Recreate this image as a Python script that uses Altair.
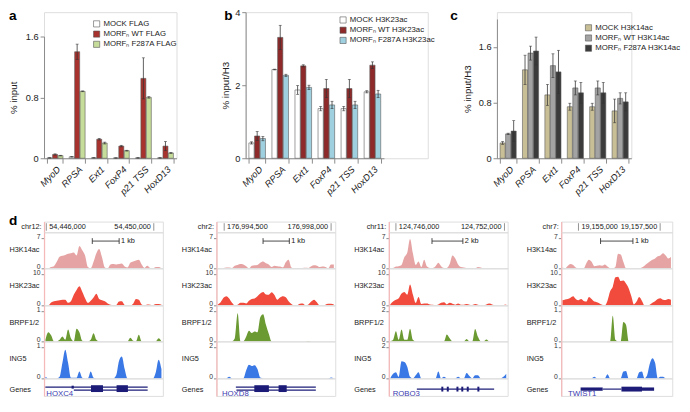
import altair as alt
import pandas as pd

FONT = "Arial"
PINK = "#f4b9b9"
GENE = "#1c1c78"

# ---------------- panels a-c ----------------
targets = ["MyoD", "RPSA", "Ext1", "FoxP4", "p21 TSS", "HoxD13"]

a_series = ["MOCK FLAG", "MORFₙ WT FLAG", "MORFₙ F287A FLAG"]
a_colors = ["#ffffff", "#a8322d", "#c6dc9a"]
a_mock = [0.005, 0.02, 0.006, 0.004, 0.005, 0.005]
a_mock_err = [0.002, 0.005, 0.002, 0.001, 0.002, 0.002]
a_wt = [0.05, 1.40, 0.25, 0.16, 1.05, 0.16]
a_wt_err = [0.008, 0.10, 0.01, 0.01, 0.27, 0.06]
a_f287a = [0.035, 0.88, 0.20, 0.10, 0.80, 0.07]
a_f287a_err = [0.004, 0.005, 0.012, 0.005, 0.01, 0.006]

b_series = ["MOCK H3K23ac", "MORFₙ WT H3K23ac", "MORFₙ F287A H3K23ac"]
b_colors = ["#ffffff", "#8e2a2a", "#9fd0e0"]
b_mock = [0.42, 2.43, 1.87, 1.36, 1.36, 1.82]
b_mock_err = [0.03, 0.01, 0.12, 0.06, 0.06, 0.03]
b_wt = [0.61, 3.31, 2.53, 1.91, 1.91, 2.55]
b_wt_err = [0.12, 0.33, 0.03, 0.25, 0.25, 0.09]
b_f287a = [0.54, 2.27, 1.94, 1.46, 1.46, 1.76]
b_f287a_err = [0.06, 0.03, 0.06, 0.10, 0.10, 0.10]

c_series = ["MOCK H3K14ac", "MORFₙ WT H3K14ac", "MORFₙ F287A H3K14ac"]
c_colors = ["#c9bf97", "#a3a3a3", "#3b3b3b"]
c_mock = [0.22, 1.27, 0.91, 0.74, 0.74, 0.68]
c_mock_err = [0.02, 0.21, 0.15, 0.05, 0.05, 0.17]
c_wt = [0.35, 1.51, 1.33, 1.01, 1.01, 0.86]
c_wt_err = [0.01, 0.10, 0.17, 0.10, 0.10, 0.08]
c_f287a = [0.39, 1.54, 1.24, 0.94, 0.94, 0.81]
c_f287a_err = [0.15, 0.20, 0.31, 0.15, 0.15, 0.13]

# ---------------- panel d ----------------
track_names = ["H3K14ac", "H3K23ac", "BRPF1/2", "ING5"]
track_colors = ["#e6a3a3", "#f04b3c", "#6b9a32", "#3a78e6"]

l1_chrom = "chr12:"
l1_domain = [54445915, 54450338]
l1_ticks = [54446000, 54450000]
l1_scalebar = [54447711, 54448711]
l1_scaletext = "1 kb"
l1_max = [7, 10, 1, 1]
l1_h3k14ac = [0, 0, 0.3, 0.5, 1.5, 2.7, 2.9, 3.1, 3.4, 3.5, 3.7, 3.0, 5.2, 4.2, 3.0, 0.3, 0, 1.5, 3.5, 4.5, 2.5,
              0.2, 0, 0.9, 1.0, 0.9, 1.0, 1.1, 0.4, 0.2, 1.3, 1.6, 1.8, 2.0, 0.9, 0.1, 0.6, 0.1, 0, 0.3, 0.3, 0]
l1_h3k23ac = [0, 0, 0.9, 1.3, 1.5, 1.6, 1.8, 1.8, 0.8, 1.3, 3.4, 4.9, 6.1, 4.4, 2.3, 0.8, 1.5, 2.5, 3.7, 2.0, 1.6,
              1.3, 0.6, 0.2, 0.1, 0.1, 1.2, 1.3, 0.1, 0, 0, 0.5, 2.0, 1.8, 0.3, 0, 0.3, 0.2, 0, 0.4, 0.4, 0.2]
l1_brpf = [0.05, 0.3, 0.2, 0, 0, 0.05, 0.16, 0.05, 0.39, 0.1, 0, 0.42, 0.3, 0.02, 0, 0, 0.05, 0.27, 0.05, 0, 0,
           0, 0, 0, 0, 0, 0, 0, 0, 0, 0.12, 0.02, 0, 0.22, 0, 0, 0, 0, 0, 0, 0.1, 0]
l1_ing5 = [0.05, 0, 0, 0, 0, 0.05, 0.5, 0.92, 0.5, 0.02, 0.02, 0.02, 0.22, 0.02, 0, 0, 0.22, 0.02, 0, 0, 0,
           0, 0, 0, 0, 0.1, 0.56, 0.7, 0.3, 0, 0, 0, 0, 0, 0, 0, 0, 0, 0, 0.2, 0.6, 0.3]
l1_gene = "HOXC4"
l1_gene_at = 54446000
l1_feat_start = [54445964, 54447024, 54446940, 54447663, 54448615]
l1_feat_end = [54449772, 54449772, 54447024, 54448109, 54449037]
l1_feat_kind = ["line_a", "line_b", "utr_a", "box", "box"]

l2_chrom = "chr2:"
l2_domain = [176994246, 176998136]
l2_ticks = [176994500, 176998000]
l2_scalebar = [176995772, 176996632]
l2_scaletext = "1 kb"
l2_max = [7, 10, 2, 2]
l2_h3k14ac = [0, 0, 0.1, 0.2, 0.2, 0.1, 0.6, 0.8, 1.0, 0.9, 0.5, 0, 0.6, 0.7, 0.8, 1.3, 1.6, 1.2, 0.9, 0.3, 0.6,
              0.5, 0.4, 0.2, 1.4, 2.0, 0.2, 0, 0, 0, 0.1, 0.15, 0.1, 0.5, 0.7, 0.6, 0.3, 0.4, 0.3, 0, 0.9, 0.9]
l2_h3k23ac = [0.3, 1.0, 2.4, 2.9, 2.2, 0.8, 0, 0.2, 0.8, 0.8, 0.6, 1.5, 2.0, 2.2, 2.9, 3.8, 4.3, 3.5, 3.4, 4.2, 3.3,
              1.8, 2.5, 2.9, 2.6, 1.3, 0.4, 0, 0, 0.5, 0.6, 0, 0.3, 1.2, 1.8, 1.0, 0, 0, 0.2, 0.5, 0.5, 0.3]
l2_brpf = [0, 0, 0, 0, 0, 0, 0.2, 1.86, 0, 0, 0.3, 0.7, 0.55, 0.65, 0.6, 1.6, 1.8, 1.1, 0.5, 0, 0,
           0, 0, 0, 0, 0, 0, 0, 0, 0, 0, 0, 0.02, 0, 0, 0, 0, 0, 0, 0, 0, 0]
l2_ing5 = [0, 0, 0, 0, 0.1, 0, 0, 0, 0, 0, 0.5, 0.87, 0.8, 0.85, 0.6, 0.05, 0, 0, 0, 0, 0,
           0, 0, 0, 0, 0, 0, 0, 0, 0, 0, 0, 0, 0, 0, 0, 0, 0, 0, 0, 0.06, 0]
l2_gene = "HOXD8"
l2_gene_at = 176994426
l2_feat_start = [176994882, 176994900, 176995486, 176996281]
l2_feat_end = [176997500, 176997500, 176995963, 176996546]
l2_feat_kind = ["line_a", "line_b", "box", "box"]

l3_chrom = "chr11:"
l3_domain = [124745608, 124752177]
l3_ticks = [124746000, 124752000]
l3_scalebar = [124747994, 124749702]
l3_scaletext = "2 kb"
l3_max = [7, 10, 2, 2]
l3_h3k14ac = [0, 0.1, 0.4, 0.5, 0.8, 2.6, 3.6, 6.8, 3.5, 0.8, 1.6, 0.3, 2.0, 0.4, 0.1, 0.1, 0.5, 1.3, 0.5, 0.1, 0.1,
              1.0, 3.0, 2.3, 0.9, 0.3, 0.2, 0.1, 0.1, 0.1, 0, 0.3, 0.2, 0, 0, 0, 0.1, 0.1, 0, 0, 0, 0.1]
l3_h3k23ac = [0.3, 1.2, 1.8, 2.3, 3.8, 4.3, 3.4, 6.7, 3.5, 0.8, 2.7, 0.4, 0.6, 0.6, 0.3, 0.2, 0.1, 0.3, 0.8, 1.0, 0.3,
              0.8, 0.5, 0.2, 0.6, 0.2, 0.2, 0.4, 0.2, 0.1, 0.4, 0.2, 0, 0, 0.3, 0.6, 0.3, 0, 0, 0, 0.1, 0.3]
l3_brpf = [0, 0.1, 0.67, 0.1, 0.78, 0.1, 0.1, 0.84, 0.1, 0, 0, 0, 0, 0, 0, 0, 0, 0, 0, 0, 0.45,
           0.2, 0, 0, 0, 0, 0, 0.16, 0, 0, 0.82, 0.3, 0, 0, 0.12, 0, 0, 0, 0, 0, 0, 0]
l3_ing5 = [0, 0.3, 0.4, 0.1, 1.1, 1.05, 0.75, 0.1, 0, 0.2, 0.4, 0, 0, 0, 0, 0, 0, 0.45, 0, 0.1, 0,
           0, 0, 0, 0.1, 0, 0, 0.35, 0.15, 0, 0.2, 0.2, 0, 0, 0, 0, 0, 0, 0, 0, 0.1, 0.3]
l3_gene = "ROBO3"
l3_gene_at = 124745822
l3_feat_start = [124747157, 124748510, 124748812, 124749346, 124749613, 124749916, 124750503]
l3_feat_end = [124751429, 124748620, 124748922, 124749456, 124749723, 124750026, 124750613]
l3_feat_kind = ["line", "exon", "exon", "exon", "exon", "exon", "exon"]

l4_chrom = "chr7:"
l4_domain = [19154472, 19157871]
l4_ticks = [19155000, 19157500]
l4_scalebar = [19155676, 19156667]
l4_scaletext = "1 kb"
l4_max = [7, 10, 1, 1]
l4_h3k14ac = [0.2, 0, 0.6, 1.0, 0.8, 0.2, 0, 0, 0, 1.2, 2.0, 1.5, 0.5, 0.6, 0.7, 0.6, 0.9, 0.4, 0, 0, 0.3,
              3.4, 3.2, 1.5, 0, 0, 0, 0, 0, 0, 0.2, 0.6, 1.1, 1.6, 2.0, 2.3, 2.8, 3.0, 3.5, 3.0, 2.3, 2.7]
l4_h3k23ac = [1.6, 1.9, 2.0, 2.4, 2.9, 2.0, 1.6, 2.0, 1.4, 1.2, 2.7, 2.0, 1.2, 1.0, 0.6, 0.2, 0, 1.5, 4.5, 6.0, 9.0,
              9.2, 7.8, 8.0, 7.0, 5.5, 3.0, 0.3, 1.2, 2.7, 1.5, 0, 0, 0.2, 0.8, 1.3, 2.0, 2.3, 1.8, 1.7, 2.0, 1.8]
l4_brpf = [0, 0, 0, 0, 0, 0, 0, 0, 0, 0, 0, 0, 0, 0, 0, 0, 0, 0, 0, 0.85, 0.05,
           0, 0, 0.64, 0.55, 0, 0, 0, 0, 0, 0, 0, 0, 0, 0, 0, 0, 0, 0, 0, 0, 0]
l4_ing5 = [0, 0, 0, 0, 0, 0, 0, 0, 0, 0, 0, 0, 0.05, 0, 0, 0, 0, 0.13, 0, 0, 0,
           0, 0, 0.22, 0.24, 0, 0, 0, 0, 0.2, 0.22, 0, 0.1, 0.47, 0.65, 0.5, 0, 0.05, 0.05, 0, 0, 0]
l4_gene = "TWIST1"
l4_gene_at = 19154676
l4_feat_start = [19155065, 19155741, 19156315, 19156945]
l4_feat_end = [19155741, 19156315, 19156945, 19157315]
l4_feat_kind = ["utr", "line", "exon", "utr"]


# ---------------- builders ----------------
def letter_layer(letter, dx, dy):
    ldf = pd.DataFrame({"letter": [letter]})
    return alt.Chart(ldf).mark_text(align="left", baseline="middle", fontSize=14, fontWeight="bold",
                                    color="#000").encode(x=alt.value(dx), y=alt.value(dy), text="letter:N")


def bar_panel(letter, key, series, vals, errs, colors, ytitle, ymax, yvals, w, plot_w, h, top_px, lx, ly, tdx,
              tpad):
    rows = []
    for s, vl, el in zip(series, vals, errs):
        for t, v, e in zip(targets, vl, el):
            rows.append({"target": t, key: s, "value": v, "lo": max(v - e, 0.0), "hi": v + e})
    df = pd.DataFrame(rows)
    x = alt.X("target:N", sort=targets, title=None,
              scale=alt.Scale(paddingInner=0.28, paddingOuter=0.14, range=[0, plot_w]),
              axis=alt.Axis(labelAngle=-45, labelFontStyle="italic", labelFontSize=9.5, labelColor="#222",
                            tickBand="extent", tickSize=5, domainColor="#8a8a8a", tickColor="#8a8a8a",
                            labelPadding=1, labelOverlap=False))
    xo = alt.XOffset(f"{key}:N", sort=series, scale=alt.Scale(paddingInner=0.08))
    ys = alt.Scale(domain=[0, ymax], range=[h, top_px], nice=False)
    bars = alt.Chart(df).mark_bar(stroke="#5a5a5a", strokeWidth=0.6).encode(
        x=x, xOffset=xo,
        y=alt.Y("value:Q", scale=ys, title=ytitle,
                axis=alt.Axis(values=yvals, format=".1~f", labelFontSize=9.5, labelColor="#222",
                              titleFontSize=10, titleFontWeight="normal", titleColor="#222",
                              domainColor="#8a8a8a", tickColor="#8a8a8a", tickSize=4, grid=False,
                              titlePadding=tpad, labelOverlap=False)),
        color=alt.Color(f"{key}:N", sort=series, scale=alt.Scale(domain=series, range=colors),
                        legend=alt.Legend(title=None, orient="none", legendX=lx, legendY=ly,
                                          symbolType="square", symbolSize=40, symbolStrokeColor="#555",
                                          symbolStrokeWidth=0.6, labelFontSize=8, labelColor="#222",
                                          rowPadding=0.5, labelOffset=3)),
    )
    err = alt.Chart(df).mark_rule(color="#333", strokeWidth=0.8).encode(
        x=x, xOffset=xo, y=alt.Y("lo:Q", scale=ys, title=ytitle), y2="hi:Q")
    cap_hi = alt.Chart(df).mark_tick(color="#333", size=3, thickness=0.8, orient="horizontal").encode(
        x=x, xOffset=xo, y=alt.Y("hi:Q", scale=ys, title=ytitle))
    cap_lo = alt.Chart(df).mark_tick(color="#333", size=3, thickness=0.8, orient="horizontal").encode(
        x=x, xOffset=xo, y=alt.Y("lo:Q", scale=ys, title=ytitle))
    return alt.layer(bars, err, cap_hi, cap_lo, letter_layer(letter, tdx, 4)).properties(width=w, height=h)


def xscale(dom):
    return alt.Scale(domain=dom, nice=False, zero=False)


def header_chart(chrom, dom, ticks, w, h, letter=None):
    xs = xscale(dom)
    tdf = pd.DataFrame({"pos": ticks, "label": [f"{t:,}" for t in ticks]})
    rule = alt.Chart(tdf).mark_rule(color="#777", strokeWidth=0.8).encode(
        x=alt.X("pos:Q", scale=xs, axis=None),
        y=alt.YDatum(0.15, scale=alt.Scale(domain=[0, 1], nice=False),
                     axis=alt.Axis(title=chrom, labels=False, ticks=False, domainColor=PINK, domainWidth=1.3,
                                   titleAngle=0, titleAlign="right", titleBaseline="middle", titleX=-3,
                                   titleY=h / 2, titleFontSize=7.5, titleFontWeight="normal",
                                   titleColor="#222", grid=False)),
        y2=alt.Y2Datum(0.85),
    )
    left = alt.Chart(tdf.iloc[[0]]).mark_text(align="left", dx=3, fontSize=7.5, color="#222").encode(
        x=alt.X("pos:Q", scale=xs, axis=None), y=alt.value(h / 2), text="label:N")
    right = alt.Chart(tdf.iloc[[1]]).mark_text(align="right", dx=-3, fontSize=7.5, color="#222").encode(
        x=alt.X("pos:Q", scale=xs, axis=None), y=alt.value(h / 2), text="label:N")
    layers = [rule, left, right]
    if letter:
        layers.append(letter_layer(letter, -36, -1))
    return alt.layer(*layers).properties(width=w, height=h)


def track_chart(dom, vals, name, vmax, color, w, h, scalebar=None, scaletext=None):
    xs = xscale(dom)
    n = len(vals)
    step = (dom[1] - dom[0]) / n
    df = pd.DataFrame({"pos": [dom[0] + (i + 0.5) * step for i in range(n)], "value": vals})
    area = alt.Chart(df).mark_area(color=color, interpolate="monotone", clip=True).encode(
        x=alt.X("pos:Q", scale=xs, axis=None),
        y=alt.Y("value:Q", scale=alt.Scale(domain=[0, vmax * h / (h - 6)], nice=False),
                axis=alt.Axis(values=[0, vmax], format="d", title=name, titleAngle=0, titleAlign="left",
                              titleBaseline="middle", titleX=-36, titleY=18, titleFontSize=7.5,
                              titleFontWeight="normal", titleColor="#222", labelFontSize=7,
                              labelColor="#333", labelBaseline="alphabetic", tickSize=3, tickColor="#888",
                              domainColor=PINK, domainWidth=1.3, labelPadding=1, grid=False,
                              labelOverlap=False)),
    )
    layers = [area]
    if scalebar is not None:
        sbdf = pd.DataFrame({"pos": [scalebar[0]], "pos2": [scalebar[1]], "label": [scaletext]})
        capdf = pd.DataFrame({"pos": scalebar})
        layers.append(alt.Chart(sbdf).mark_rule(color="#333", strokeWidth=0.9).encode(
            x=alt.X("pos:Q", scale=xs, axis=None), x2="pos2:Q", y=alt.value(9)))
        layers.append(alt.Chart(capdf).mark_rule(color="#333", strokeWidth=0.9).encode(
            x=alt.X("pos:Q", scale=xs, axis=None), y=alt.value(6), y2=alt.value(12)))
        layers.append(alt.Chart(sbdf).mark_text(align="left", dx=2, fontSize=7.5, color="#222").encode(
            x=alt.X("pos2:Q", scale=xs, axis=None), y=alt.value(9.5), text="label:N"))
    return alt.layer(*layers).properties(width=w, height=h)


KIND_Y = {"line_a": (8.4, 9.6), "line_b": (11.4, 12.6), "box": (7.0, 14.0), "utr_a": (7.5, 10.5),
          "line": (10.4, 11.6), "exon": (8.5, 13.5), "utr": (9.3, 12.7)}


def genes_chart(dom, starts, ends, kinds, gname, gat, w, h):
    xs = xscale(dom)
    gdf = pd.DataFrame({"start": starts, "end": ends, "kind": kinds})
    gdf["y0"] = [KIND_Y[k][0] for k in kinds]
    gdf["y1"] = [KIND_Y[k][1] for k in kinds]
    ys = alt.Scale(domain=[0, h], reverse=True, nice=False)
    feats = alt.Chart(gdf).mark_bar(color=GENE).encode(
        x=alt.X("start:Q", scale=xs, axis=None), x2="end:Q",
        y=alt.Y("y0:Q", scale=ys,
                axis=alt.Axis(title="Genes", labels=False, ticks=False, domainColor=PINK, domainWidth=1.3,
                              titleAngle=0, titleAlign="left", titleBaseline="middle", titleX=-36,
                              titleY=11, titleFontSize=7.5, titleFontWeight="normal", titleColor="#222",
                              grid=False)),
        y2="y1:Q",
    )
    ndf = pd.DataFrame({"pos": [gat], "name": [gname]})
    txt = alt.Chart(ndf).mark_text(align="left", fontSize=8, color="#3b3bb0").encode(
        x=alt.X("pos:Q", scale=xs, axis=None), y=alt.value(16.5), text="name:N")
    return alt.layer(feats, txt).properties(width=w, height=h)


def locus(chrom, dom, ticks, sb, sbt, tracks, maxes, fs, fe, fk, gname, gat, w, letter=None):
    hs = [37, 38, 37, 38]
    parts = [header_chart(chrom, dom, ticks, w, 11, letter)]
    for i, (vals, nm, col, mx) in enumerate(zip(tracks, track_names, track_colors, maxes)):
        if i == 0:
            parts.append(track_chart(dom, vals, nm, mx, col, w, hs[i], sb, sbt))
        else:
            parts.append(track_chart(dom, vals, nm, mx, col, w, hs[i]))
    parts.append(genes_chart(dom, fs, fe, fk, gname, gat, w, 18))
    return alt.vconcat(*parts, spacing=0, bounds="flush")


pa = bar_panel("a", "sa", a_series, [a_mock, a_wt, a_f287a], [a_mock_err, a_wt_err, a_f287a_err], a_colors,
               "% input", 1.6, [0, 0.4, 0.8, 1.2, 1.6], 136, 136, 150, 25, 50, 8, -36, 7)
pb = bar_panel("b", "sb", b_series, [b_mock, b_wt, b_f287a], [b_mock_err, b_wt_err, b_f287a_err], b_colors,
               "% input/H3", 4, [0, 1, 2, 3, 4], 187, 142, 150, 0, 96, 4, -22, 4)
pc = bar_panel("c", "sc", c_series, [c_mock, c_wt, c_f287a], [c_mock_err, c_wt_err, c_f287a_err], c_colors,
               "% input/H3", 2, [0, 0.4, 0.8, 1.2, 1.6, 2], 138, 138, 150, 7, 90, 12, -48, 6)

d1 = locus(l1_chrom, l1_domain, l1_ticks, l1_scalebar, l1_scaletext, [l1_h3k14ac, l1_h3k23ac, l1_brpf, l1_ing5],
           l1_max, l1_feat_start, l1_feat_end, l1_feat_kind, l1_gene, l1_gene_at, 122, letter="d")
d2 = locus(l2_chrom, l2_domain, l2_ticks, l2_scalebar, l2_scaletext, [l2_h3k14ac, l2_h3k23ac, l2_brpf, l2_ing5],
           l2_max, l2_feat_start, l2_feat_end, l2_feat_kind, l2_gene, l2_gene_at, 122)
d3 = locus(l3_chrom, l3_domain, l3_ticks, l3_scalebar, l3_scaletext, [l3_h3k14ac, l3_h3k23ac, l3_brpf, l3_ing5],
           l3_max, l3_feat_start, l3_feat_end, l3_feat_kind, l3_gene, l3_gene_at, 122)
d4 = locus(l4_chrom, l4_domain, l4_ticks, l4_scalebar, l4_scaletext, [l4_h3k14ac, l4_h3k23ac, l4_brpf, l4_ing5],
           l4_max, l4_feat_start, l4_feat_end, l4_feat_kind, l4_gene, l4_gene_at, 114)

top = alt.hconcat(pa, pb, pc, spacing=71, bounds="flush").resolve_scale(
    color="independent", xOffset="independent").resolve_legend(color="independent")
bottom = alt.hconcat(d1, d2, d3, d4, spacing=17)

chart = alt.vconcat(top, bottom, spacing=16).properties(
    padding={"left": 0, "top": -7, "right": 0, "bottom": 0})
chart = chart.configure_view(stroke="transparent").configure(font=FONT).configure_axis(
    labelFont=FONT, titleFont=FONT).configure_legend(labelFont=FONT).configure_text(font=FONT)

chart.save("out.html", embed_options={"renderer": "svg", "actions": False})
